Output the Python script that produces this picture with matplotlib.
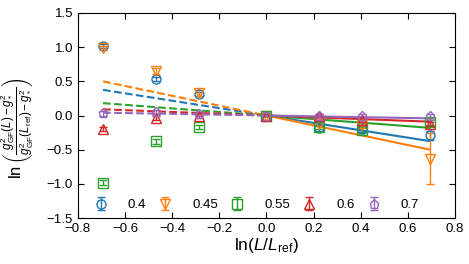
import matplotlib
matplotlib.use("Agg")
import matplotlib.pyplot as plt
import numpy as np

# ln(L/L_ref) for the lattice sizes
x_vals = [-0.693, -0.470, -0.288, 0.0, 0.223, 0.405, 0.693]

labels = ["0.4", "0.45", "0.55", "0.6", "0.7"]
colors = ["#1f77b4", "#ff7f0e", "#2ca02c", "#d62728", "#9467bd"]
markers = ["o", "v", "s", "^", "p"]

y_04 = [1.02, 0.54, 0.31, 0.0, -0.19, -0.20, -0.29]
y_045 = [0.99, 0.65, 0.33, 0.0, -0.12, -0.14, -0.63]
y_055 = [-0.98, -0.38, -0.17, 0.0, -0.17, -0.21, -0.10]
y_06 = [-0.20, -0.03, 0.00, 0.0, -0.005, -0.07, -0.12]
y_07 = [0.03, 0.05, 0.02, 0.0, -0.01, -0.01, -0.01]

e_04 = [0.03, 0.03, 0.03, 0.0, 0.03, 0.04, 0.07]
e_045 = [0.03, 0.04, 0.04, 0.0, 0.04, 0.05, 0.37]
e_055 = [0.03, 0.03, 0.03, 0.0, 0.03, 0.04, 0.04]
e_06 = [0.03, 0.03, 0.03, 0.0, 0.03, 0.03, 0.03]
e_07 = [0.03, 0.03, 0.03, 0.0, 0.03, 0.03, 0.03]

# slopes of the linear fits through the origin
fit_slopes = [-0.54, -0.72, -0.26, -0.13, -0.06]

series = [y_04, y_045, y_055, y_06, y_07]
errors = [e_04, e_045, e_055, e_06, e_07]

plt.rcParams["font.family"] = "Liberation Sans"
plt.rcParams["mathtext.fontset"] = "custom"
plt.rcParams["mathtext.rm"] = "Liberation Sans"
plt.rcParams["mathtext.it"] = "Liberation Sans:italic"
plt.rcParams["mathtext.bf"] = "Liberation Sans:bold"
plt.rcParams["font.size"] = 10

fig = plt.figure(figsize=(4.69, 2.64), dpi=100)
ax = fig.add_axes([0.166, 0.174, 0.804, 0.777])

x = np.array(x_vals)
x_left = np.array([x_vals[0], 0.0])
x_right = np.array([0.0, x_vals[-1]])
for ys, es, slope, c, m, lab in zip(series, errors, fit_slopes, colors, markers, labels):
    ax.plot(x_left, slope * x_left, "--", color=c, lw=1.5)
    ax.plot(x_right, slope * x_right, "-", color=c, lw=1.5)
    ax.errorbar(x, ys, yerr=es, fmt=m, color=c, mfc="none", mec=c, ms=6.5,
                mew=1.0, capsize=3, elinewidth=1.0, label=lab)

ax.set_xlim(-0.8, 0.8)
ax.set_ylim(-1.5, 1.5)
ax.set_xticks(np.arange(-0.8, 0.81, 0.2))
ax.set_yticks(np.arange(-1.5, 1.51, 0.5))
ax.tick_params(direction="in", top=True, right=True, length=4, labelsize=9.5)
ax.set_xlabel(r"$\ln(L/L_{\rm ref})$", fontsize=12.5, labelpad=1)
ax.set_ylabel(r"$\ln\left(\frac{g^2_{\rm GF}(L)-g_*^2}{g^2_{\rm GF}(L_{\rm ref})-g_*^2}\right)$",
              fontsize=12)
ax.yaxis.set_label_coords(-0.11, 0.44)
ax.legend(loc="lower left", ncol=5, frameon=False, fontsize=9.5,
          bbox_to_anchor=(0.02, 0.0), borderaxespad=0.1, handletextpad=1.4,
          columnspacing=0.8, handlelength=1.3)

fig.savefig("out.png", dpi=100)
